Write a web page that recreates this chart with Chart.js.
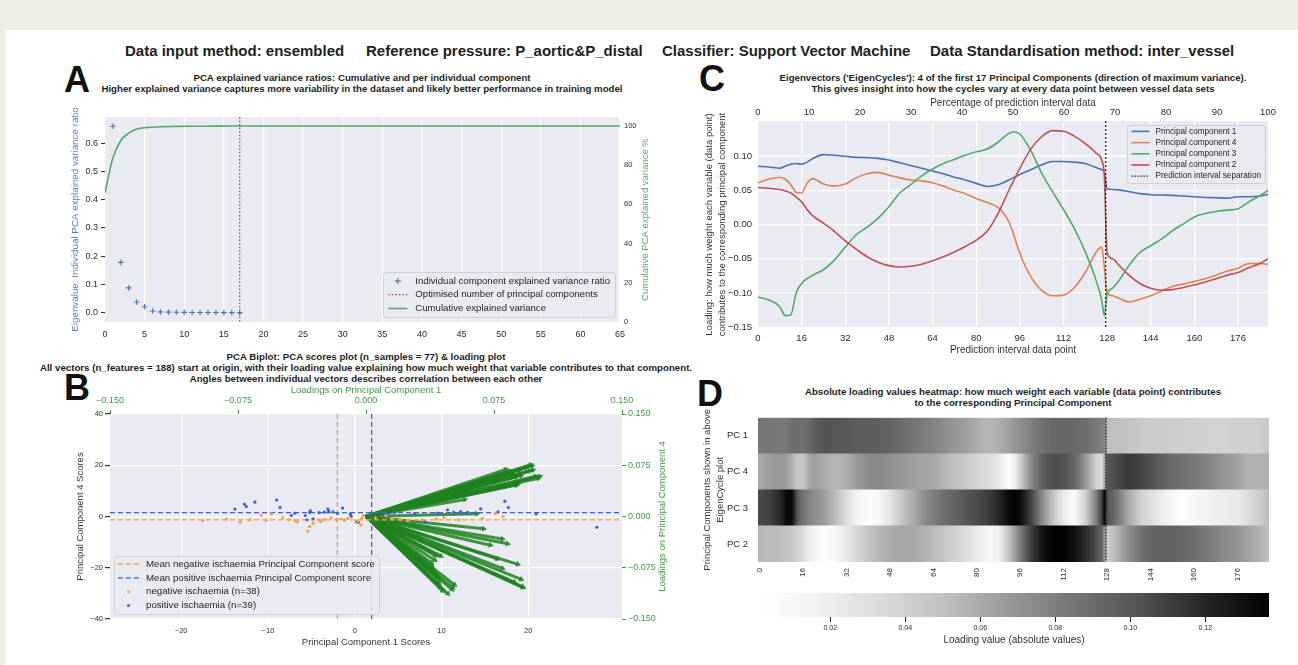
<!DOCTYPE html>
<html lang="en">
<head>
<meta charset="utf-8">
<title>PCA summary</title>
<script src="https://cdn.jsdelivr.net/npm/chart.js@4.4.1/dist/chart.umd.min.js"></script>
<style>
    html, body { margin: 0; padding: 0; }
    body {
        width: 1298px; height: 665px; overflow: hidden; position: relative;
        background: #efefe3;
        font-family: "Liberation Sans", Arial, sans-serif; color: #262626;
    }
    #sheet { position: absolute; left: 5px; top: 30px; width: 1293px; height: 635px; background: #fff; }
    .txt { position: absolute; white-space: nowrap; }
    .head { top: 42px; font-size: 15px; line-height: 18px; font-weight: bold; color: #1e1e1e; }
    .letter { font-size: 36px; line-height: 36px; font-weight: bold; color: #111; }
    .ttl { font-size: 9.7px; line-height: 11px; font-weight: bold; text-align: center; transform: translateX(-50%); color: #1e1e1e; }
    canvas { position: absolute; }
</style>
</head>
<body>
<div id="sheet"></div>

<div class="txt head" style="left:125px">Data input method: ensembled</div>
<div class="txt head" style="left:366px">Reference pressure: P_aortic&amp;P_distal</div>
<div class="txt head" style="left:662px">Classifier: Support Vector Machine</div>
<div class="txt head" style="left:930px">Data Standardisation method: inter_vessel</div>

<div class="txt letter" style="left:64px;top:62px">A</div>
<div class="txt letter" style="left:64px;top:370px">B</div>
<div class="txt letter" style="left:699px;top:61px">C</div>
<div class="txt letter" style="left:697px;top:376px">D</div>

<div class="txt ttl" style="left:362px;top:72px">PCA explained variance ratios: Cumulative and per individual component<br>Higher explained variance captures more variability in the dataset and likely better performance in training model</div>
<div class="txt ttl" style="left:366px;top:351px">PCA Biplot: PCA scores plot (n_samples = 77) &amp; loading plot<br>All vectors (n_features = 188) start at origin, with their loading value explaining how much weight that variable contributes to that component.<br>Angles between individual vectors describes correlation between each other</div>
<div class="txt ttl" style="left:1013px;top:72px">Eigenvectors ('EigenCycles'): 4 of the first 17 Principal Components (direction of maximum variance).<br>This gives insight into how the cycles vary at every data point between vessel data sets</div>
<div class="txt ttl" style="left:1013px;top:386px">Absolute loading values heatmap: how much weight each variable (data point) contributes<br>to the corresponding Principal Component</div>

<canvas id="chartA"></canvas>
<canvas id="chartB"></canvas>
<canvas id="chartC"></canvas>
<canvas id="chartD"></canvas>
<canvas id="chartBar"></canvas>

<script>
// ---- A: explained variance per component ----
var componentNo = [1, 2, 3, 4, 5, 6, 7, 8, 9, 10, 11, 12, 13, 14, 15, 16, 17];
var explainedRatio = [0.660, 0.178, 0.088, 0.038, 0.021, 0.006, 0.003, 0.002, 0.0015, 0.001, 0.0008, 0.0006, 0.0005, 0.0004, 0.0003, 0.0002, 0.0002];
var cumulativeX = [0, 1, 2, 3, 4, 5, 6, 7, 8, 9, 10, 12, 14, 17, 20, 30, 40, 50, 60, 65];
var cumulativePct = [66.0, 83.8, 92.6, 96.4, 98.5, 99.1, 99.4, 99.6, 99.7, 99.8, 99.85, 99.9, 99.95, 99.98, 100, 100, 100, 100, 100, 100];
var optimisedComponents = 17;
var componentTicks = [0, 5, 10, 15, 20, 25, 30, 35, 40, 45, 50, 55, 60, 65];
var ratioTicks = [0, 0.1, 0.2, 0.3, 0.4, 0.5, 0.6];
var cumulativeTicks = [0, 20, 40, 60, 80, 100];

// ---- B: scores (PC1, PC4) per sample ----
var negScores = [[-17.5, -1.7], [-13.2, -2.2], [-12.1, -1.3], [-10.8, 0.5], [-9.6, 1.0], [-8.3, -0.4], [-6.9, -1.7], [-6.6, -2.1],
    [-5.4, -5.7], [-5.2, -3.9], [-4.8, -2.6], [-4.2, -1.3], [-3.5, -1.2], [-2.7, -0.4], [-2.1, -1.3], [-1.2, -1.4], [-0.8, -0.7],
    [0.7, -3.4], [0.8, -0.7], [1.0, 0.3], [3.6, 0.4], [4.3, -0.9], [6.1, -1.7], [7.8, -1.3], [9.4, -1.0], [12.0, -1.3], [16.2, 1.3],
    [17.1, 0.0], [10.3, -0.3], [14.7, -0.7], [-7.6, -1.2], [-3.9, -2.0], [-1.6, -0.9], [0.3, -1.8], [2.4, -0.5], [5.2, -1.1],
    [-14.8, -1.0], [-10.2, -1.5]];
var posScores = [[-13.8, 2.9], [-12.7, 4.8], [-12.5, 3.9], [-11.5, 5.6], [-9.0, 6.4], [-8.6, 3.6], [-7.3, 0.4], [-6.9, 1.3],
    [-5.7, 0.4], [-5.2, 1.6], [-5.1, 2.2], [-5.5, -1.3], [-4.8, -0.9], [-3.5, 1.7], [-3.1, 2.9], [-3.0, 2.1], [-2.5, 1.8],
    [-1.4, 3.3], [-0.5, 0.9], [-0.4, 0.1], [0.2, -2.0], [0.4, -2.2], [-4.1, 1.5], [-2.0, 1.2], [3.8, 0.7], [4.6, 1.6], [6.9, 1.2],
    [8.1, -2.1], [10.7, 2.6], [11.4, 1.6], [13.0, 1.6], [14.5, 3.0], [17.3, 6.0], [17.7, 3.5], [16.5, 1.8], [20.9, 1.0],
    [27.9, -4.2], [9.5, 1.3], [12.2, 1.9]];
var meanNeg = [-2.0, -1.3];
var meanPos = [1.95, 1.5];
var scoreXTicks = [-20, -10, 0, 10, 20];
var scoreYTicks = [-40, -20, 0, 20, 40];
var loadingTicks = [-0.15, -0.075, 0, 0.075, 0.15];

// ---- C: eigenvector loadings along the 188 data points ----
var cycleIdx = [0, 4, 8, 10, 12, 14, 16, 18, 20, 24, 28, 32, 36, 40, 44, 48, 52, 56, 60, 64, 68, 72, 76, 80, 84, 88, 92, 94, 96,
    100, 104, 108, 112, 116, 120, 124, 126, 127, 128, 130, 132, 136, 140, 144, 148, 152, 156, 160, 164, 168, 172, 176, 180, 184, 187];
var pc1 = [0.085, 0.084, 0.082, 0.085, 0.088, 0.089, 0.088, 0.091, 0.096, 0.102,
    0.101, 0.0995, 0.098, 0.0975, 0.0965, 0.094, 0.090, 0.086, 0.082, 0.078,
    0.074, 0.069, 0.065, 0.060, 0.0555, 0.058, 0.065, 0.069, 0.073, 0.080,
    0.087, 0.092, 0.092, 0.091, 0.089, 0.083, 0.080, 0.077, 0.052, 0.051,
    0.0505, 0.048, 0.045, 0.0435, 0.043, 0.0425, 0.0415, 0.0405, 0.0395, 0.039,
    0.0385, 0.0405, 0.0405, 0.0415, 0.044];
var pc4 = [0.061, 0.066, 0.069, 0.066, 0.058, 0.047, 0.046, 0.060, 0.067, 0.059,
    0.056, 0.059, 0.068, 0.074, 0.076, 0.072, 0.068, 0.065, 0.0635, 0.061,
    0.056, 0.050, 0.045, 0.038, 0.032, 0.025, 0.004, -0.018, -0.042, -0.076,
    -0.096, -0.104, -0.103, -0.092, -0.070, -0.040, -0.033, -0.062, -0.100, -0.104,
    -0.107, -0.113, -0.109, -0.104, -0.097, -0.090, -0.087, -0.083, -0.079, -0.074,
    -0.068, -0.064, -0.057, -0.057, -0.058];
var pc3 = [-0.106, -0.110, -0.120, -0.133, -0.132, -0.100, -0.086, -0.079, -0.074, -0.066,
    -0.052, -0.033, -0.015, -0.004, 0.009, 0.026, 0.046, 0.058, 0.071, 0.081,
    0.089, 0.095, 0.101, 0.106, 0.110, 0.120, 0.133, 0.135, 0.132, 0.108,
    0.075, 0.048, 0.022, -0.006, -0.040, -0.082, -0.110, -0.133, -0.102, -0.093,
    -0.084, -0.060, -0.041, -0.031, -0.021, -0.009, 0.001, 0.011, 0.016, 0.019,
    0.021, 0.023, 0.033, 0.042, 0.050];
var pc2 = [0.054, 0.053, 0.051, 0.049, 0.046, 0.040, 0.033, 0.022, 0.013, 0.002,
    -0.010, -0.024, -0.036, -0.047, -0.055, -0.060, -0.062, -0.061, -0.058, -0.053,
    -0.047, -0.040, -0.032, -0.023, -0.010, 0.016, 0.050, 0.066, 0.082, 0.110,
    0.128, 0.137, 0.136, 0.129, 0.118, 0.104, 0.094, 0.070, -0.042, -0.050,
    -0.058, -0.074, -0.086, -0.093, -0.096, -0.095, -0.092, -0.088, -0.084, -0.079,
    -0.074, -0.070, -0.063, -0.057, -0.050];
var separationAt = 127.5;
var cycleTicks = [0, 16, 32, 48, 64, 80, 96, 112, 128, 144, 160, 176];
var percentTicks = [0, 10, 20, 30, 40, 50, 60, 70, 80, 90, 100];
var eigenTicks = [-0.15, -0.1, -0.05, 0, 0.05, 0.1];

// ---- D: heatmap rows and colour bar ----
var heatRows = ['PC 1', 'PC 4', 'PC 3', 'PC 2'];
var colourRange = [0.001, 0.137];
var colourTicks = [0.02, 0.04, 0.06, 0.08, 0.10, 0.12];

var FONT = '"Liberation Sans", Arial, sans-serif';
var BLUE = '#4c72b0', ORANGE = '#dd8452', GREEN = '#55a868', RED = '#c44e52';
var AXIS_GREEN = '#3f9a45', ARROW = 'rgba(30,130,30,0.85)';
var MEAN_ORANGE = '#f5a04e', MEAN_BLUE = '#3f61d6';
var GREYS = [255, 240, 217, 189, 150, 115, 82, 37, 0];

function place(id, box) {
    var c = document.getElementById(id);
    c.width = box.w;
    c.height = box.h;
    c.style.left = box.x + 'px';
    c.style.top = box.y + 'px';
    return c;
}

function fit(size) {
    return function (scale) {
        if (scale.isHorizontal()) {
            scale.height = size;
        } else {
            scale.width = size;
        }
    };
}

function ticksAt(values) {
    return function (scale) {
        scale.ticks = values.map(function (v) { return {value: v}; });
    };
}

function minus(text) {
    return String(text).replace('-', '\u2212');
}

function greyFor(v) {
    var t = Math.min(1, Math.max(0, (v - colourRange[0]) / (colourRange[1] - colourRange[0])));
    var p = t * (GREYS.length - 1), i = Math.min(GREYS.length - 2, Math.floor(p)), f = p - i;
    var g = Math.round(GREYS[i] + (GREYS[i + 1] - GREYS[i]) * f);
    return 'rgb(' + g + ',' + g + ',' + g + ')';
}

var plotBg = {
    id: 'plotBg',
    beforeDraw: function (chart) {
        var a = chart.chartArea, ctx = chart.ctx;
        ctx.save();
        ctx.fillStyle = '#eaeaf2';
        ctx.fillRect(a.left, a.top, a.right - a.left, a.bottom - a.top);
        ctx.restore();
    }
};

function vLine(id, value, o) {
    return {
        id: id,
        afterDatasetsDraw: function (chart) {
            var a = chart.chartArea, ctx = chart.ctx;
            var x = chart.scales[o.axis || 'x'].getPixelForValue(value);
            ctx.save();
            ctx.strokeStyle = o.color;
            ctx.lineWidth = o.width || 1;
            ctx.setLineDash(o.dash || []);
            ctx.beginPath();
            ctx.moveTo(x, a.top);
            ctx.lineTo(x, a.bottom);
            ctx.stroke();
            ctx.restore();
        }
    };
}

// rotated axis labels that read bottom to top, like matplotlib
function sideTitle(id, lines, x, o) {
    return {
        id: id,
        afterDraw: function (chart) {
            var a = chart.chartArea, ctx = chart.ctx, y = (a.top + a.bottom) / 2;
            ctx.save();
            ctx.font = o.size + 'px ' + FONT;
            ctx.fillStyle = o.color || '#2b2b2b';
            ctx.textAlign = 'center';
            ctx.textBaseline = 'middle';
            lines.forEach(function (line, i) {
                ctx.save();
                ctx.translate(x + i * (o.gap || 0), y);
                ctx.rotate(-Math.PI / 2);
                ctx.fillText(line, 0, 0);
                ctx.restore();
            });
            ctx.restore();
        }
    };
}

function legendBox(id, items, o) {
    return {
        id: id,
        afterDraw: function (chart) {
            var ctx = chart.ctx, a = chart.chartArea;
            ctx.save();
            ctx.font = o.size + 'px ' + FONT;
            var textW = 0;
            items.forEach(function (it) {
                textW = Math.max(textW, ctx.measureText(it.label).width);
            });
            var w = o.pad * 2 + o.handle + o.gap + textW;
            var h = o.vpad * 2 + o.row * items.length;
            var x = o.left !== undefined ? a.left + o.left : a.right - o.right - w;
            var y = o.top !== undefined ? a.top + o.top : a.bottom - o.bottom - h;
            ctx.beginPath();
            ctx.roundRect(Math.round(x) + 0.5, Math.round(y) + 0.5, Math.round(w), Math.round(h), 2.5);
            ctx.fillStyle = 'rgba(234,234,242,0.85)';
            ctx.fill();
            ctx.strokeStyle = '#d0d0d6';
            ctx.lineWidth = 1;
            ctx.stroke();
            ctx.textBaseline = 'middle';
            items.forEach(function (it, i) {
                var cy = y + o.vpad + o.row * (i + 0.5), hx = x + o.pad, mid = hx + o.handle / 2;
                ctx.strokeStyle = it.color;
                ctx.fillStyle = it.color;
                ctx.lineWidth = it.width || 1.5;
                ctx.setLineDash(it.dash || []);
                ctx.beginPath();
                if (it.kind === 'plus') {
                    ctx.moveTo(mid - 3, cy);
                    ctx.lineTo(mid + 3, cy);
                    ctx.moveTo(mid, cy - 3);
                    ctx.lineTo(mid, cy + 3);
                    ctx.stroke();
                } else if (it.kind === 'dot') {
                    ctx.arc(mid, cy, 1.5, 0, Math.PI * 2);
                    ctx.fill();
                } else {
                    ctx.moveTo(hx, cy);
                    ctx.lineTo(hx + o.handle, cy);
                    ctx.stroke();
                }
                ctx.setLineDash([]);
                ctx.fillStyle = '#262626';
                ctx.fillText(it.label, hx + o.handle + o.gap, cy);
            });
            ctx.restore();
        }
    };
}

var Figure = {

    setup: function () {
        Chart.defaults.font.family = FONT;
        Chart.defaults.color = '#2b2b2b';
        Chart.defaults.responsive = false;
        Chart.defaults.animation = false;
        Chart.defaults.events = [];
        Chart.defaults.plugins.legend.display = false;
        Chart.defaults.plugins.tooltip.enabled = false;

        this.drawVariance();
        this.drawBiplot();
        this.drawEigenCycles();
        this.drawHeatmap();
        this.drawColourbar();
    },

    drawVariance: function () {
        var canvas = place('chartA', {x: 66, y: 108, w: 594, h: 236});

        new Chart(canvas, {
            type: 'scatter',
            data: {
                datasets: [{
                    data: componentNo.map(function (c, i) { return {x: c, y: explainedRatio[i]}; }),
                    yAxisID: 'y',
                    pointStyle: 'cross',
                    pointRadius: 2.8,
                    borderColor: BLUE,
                    backgroundColor: BLUE,
                    borderWidth: 1.1
                }, {
                    type: 'line',
                    data: cumulativeX.map(function (x, i) { return {x: x, y: cumulativePct[i]}; }),
                    yAxisID: 'y2',
                    borderColor: GREEN,
                    borderWidth: 1.6,
                    pointRadius: 0,
                    cubicInterpolationMode: 'monotone'
                }]
            },
            options: {
                devicePixelRatio: 1,
                layout: {padding: {top: 9}},
                scales: {
                    x: {
                        type: 'linear', min: 0, max: 65,
                        border: {display: false},
                        grid: {color: '#ffffff', lineWidth: 1.2, drawTicks: false},
                        ticks: {font: {size: 9}, padding: 7},
                        afterBuildTicks: ticksAt(componentTicks),
                        afterFit: fit(22)
                    },
                    y: {
                        position: 'left', min: -0.033, max: 0.693,
                        border: {display: false},
                        grid: {drawOnChartArea: false, tickLength: 4, tickColor: '#333'},
                        ticks: {font: {size: 9}, padding: 3, callback: function (v) { return v.toFixed(1); }},
                        afterBuildTicks: ticksAt(ratioTicks),
                        afterFit: fit(39)
                    },
                    y2: {
                        position: 'right', min: 0, max: 104.6,
                        border: {display: false},
                        grid: {display: false, drawTicks: false},
                        ticks: {font: {size: 7.5}, padding: 4},
                        afterBuildTicks: ticksAt(cumulativeTicks),
                        afterFit: fit(40)
                    }
                }
            },
            plugins: [
                plotBg,
                vLine('optLine', optimisedComponents, {color: '#b5474b', width: 1.3, dash: [1.5, 2]}),
                sideTitle('titleA1', ['Eigenvalue: Individual PCA explained variance ratio'], 9.5, {size: 9.8, color: '#5a7ec2'}),
                sideTitle('titleA2', ['Cumulative PCA explained variance %'], 579, {size: 9.5, color: '#5aaa6a'}),
                legendBox('legendA', [
                    {kind: 'plus', color: BLUE, width: 1.1, label: 'Individual component explained variance ratio'},
                    {kind: 'line', color: '#b5474b', dash: [1.5, 2], width: 1.3, label: 'Optimised number of principal components'},
                    {kind: 'line', color: GREEN, width: 1.6, label: 'Cumulative explained variance'}
                ], {size: 9.6, row: 13.8, pad: 5, vpad: 1.6, handle: 19, gap: 8, right: 5, bottom: 5})
            ]
        });
    },

    drawBiplot: function () {
        var canvas = place('chartB', {x: 70, y: 385, w: 602, h: 263});
        var xr = [-28.2, 30.8], yr = [-40, 40];
        var datasets = [];

        // one arrow per loading vector, tip at (PC1 loading, PC4 loading)
        cycleIdx.forEach(function (idx, k) {
            datasets.push({
                type: 'line',
                data: [{x: 0, y: 0}, {x: pc1[k], y: pc4[k]}],
                xAxisID: 'x2',
                yAxisID: 'y2',
                borderColor: ARROW,
                borderWidth: 3,
                pointStyle: 'triangle',
                pointRadius: [0, 3.4],
                pointBorderWidth: 0,
                pointBackgroundColor: ARROW,
                pointRotation: function (c) {
                    var sx = c.chart.scales.x2, sy = c.chart.scales.y2;
                    var dx = sx.getPixelForValue(pc1[k]) - sx.getPixelForValue(0);
                    var dy = sy.getPixelForValue(pc4[k]) - sy.getPixelForValue(0);
                    return Math.atan2(dx, -dy) * 180 / Math.PI;
                },
                order: 3
            });
        });

        [[meanNeg, MEAN_ORANGE], [meanPos, MEAN_BLUE]].forEach(function (m) {
            datasets.push({
                type: 'line',
                data: [{x: m[0][0], y: yr[0]}, {x: m[0][0], y: yr[1]}],
                borderColor: m[1], borderWidth: 1.3, borderDash: [5, 3], pointRadius: 0, order: 2
            });
            datasets.push({
                type: 'line',
                data: [{x: xr[0], y: m[0][1]}, {x: xr[1], y: m[0][1]}],
                borderColor: m[1], borderWidth: 1.3, borderDash: [5, 3], pointRadius: 0, order: 2
            });
        });

        datasets.push({
            data: negScores.map(function (p) { return {x: p[0], y: p[1]}; }),
            backgroundColor: MEAN_ORANGE, borderWidth: 0, pointRadius: 1.6, order: 1
        });
        datasets.push({
            data: posScores.map(function (p) { return {x: p[0], y: p[1]}; }),
            backgroundColor: MEAN_BLUE, borderWidth: 0, pointRadius: 1.6, order: 1
        });

        new Chart(canvas, {
            type: 'scatter',
            data: {datasets: datasets},
            options: {
                devicePixelRatio: 1,
                scales: {
                    x: {
                        min: xr[0], max: xr[1],
                        border: {display: false},
                        grid: {color: '#ffffff', lineWidth: 1.2, drawTicks: false},
                        ticks: {font: {size: 7.5}, padding: 7, callback: minus},
                        title: {display: true, text: 'Principal Component 1 Scores', font: {size: 9.5}, padding: 0, color: '#333'},
                        afterBuildTicks: ticksAt(scoreXTicks),
                        afterFit: fit(29)
                    },
                    y: {
                        min: yr[0], max: yr[1],
                        border: {display: false},
                        grid: {color: '#ffffff', lineWidth: 1.2, tickLength: 5, tickColor: '#333'},
                        ticks: {font: {size: 7.5}, padding: 2, callback: minus},
                        afterBuildTicks: ticksAt(scoreYTicks),
                        afterFit: fit(40)
                    },
                    x2: {
                        type: 'linear', position: 'top', min: -0.15, max: 0.15,
                        border: {display: false},
                        grid: {drawOnChartArea: false, tickLength: 4, tickColor: AXIS_GREEN},
                        ticks: {font: {size: 9}, padding: 4, color: AXIS_GREEN, callback: function (v) { return minus(v.toFixed(3)); }},
                        title: {display: true, text: 'Loadings on Principal Component 1', font: {size: 9.5}, padding: 0, color: AXIS_GREEN},
                        afterBuildTicks: ticksAt(loadingTicks),
                        afterFit: fit(29)
                    },
                    y2: {
                        type: 'linear', position: 'right', min: -0.15, max: 0.15,
                        border: {display: false},
                        grid: {drawOnChartArea: false, tickLength: 4, tickColor: AXIS_GREEN},
                        ticks: {font: {size: 9}, padding: 2, color: AXIS_GREEN, callback: function (v) { return minus(v.toFixed(3)); }},
                        afterBuildTicks: ticksAt(loadingTicks),
                        afterFit: fit(50)
                    }
                }
            },
            plugins: [
                plotBg,
                sideTitle('titleB1', ['Principal Component 4 Scores'], 10, {size: 9.5, color: '#333'}),
                sideTitle('titleB2', ['Loadings on Principal Component 4'], 592, {size: 9.5, color: AXIS_GREEN}),
                legendBox('legendB', [
                    {kind: 'line', color: MEAN_ORANGE, dash: [5, 3], width: 1.3, label: 'Mean negative ischaemia Principal Component score'},
                    {kind: 'line', color: MEAN_BLUE, dash: [5, 3], width: 1.3, label: 'Mean positive ischaemia Principal Component score'},
                    {kind: 'dot', color: MEAN_ORANGE, label: 'negative ischaemia (n=38)'},
                    {kind: 'dot', color: MEAN_BLUE, label: 'positive ischaemia (n=39)'}
                ], {size: 9.7, row: 13.8, pad: 4, vpad: 1.6, handle: 21, gap: 7, left: 4, bottom: 5})
            ]
        });
    },

    drawEigenCycles: function () {
        var canvas = place('chartC', {x: 703, y: 97, w: 587, h: 259});
        var series = [
            {label: 'Principal component 1', values: pc1, color: BLUE, order: 4},
            {label: 'Principal component 4', values: pc4, color: ORANGE, order: 3},
            {label: 'Principal component 3', values: pc3, color: GREEN, order: 2},
            {label: 'Principal component 2', values: pc2, color: RED, order: 1}
        ];

        new Chart(canvas, {
            type: 'line',
            data: {
                datasets: series.map(function (s) {
                    return {
                        label: s.label,
                        data: cycleIdx.map(function (x, i) { return {x: x, y: s.values[i]}; }),
                        borderColor: s.color,
                        borderWidth: 1.6,
                        pointRadius: 0,
                        cubicInterpolationMode: 'monotone',
                        order: s.order
                    };
                })
            },
            options: {
                devicePixelRatio: 1,
                layout: {padding: {right: 22}},
                scales: {
                    x: {
                        type: 'linear', min: 0, max: 187,
                        border: {display: false},
                        grid: {color: '#ffffff', lineWidth: 1.2, drawTicks: false},
                        ticks: {font: {size: 9.5}, padding: 5},
                        title: {display: true, text: 'Prediction interval data point', font: {size: 10}, padding: 0, color: '#333'},
                        afterBuildTicks: ticksAt(cycleTicks),
                        afterFit: fit(28)
                    },
                    xTop: {
                        type: 'linear', position: 'top', min: 0, max: 100,
                        border: {display: false},
                        grid: {display: false, drawTicks: false},
                        ticks: {font: {size: 9.5}, padding: 3},
                        title: {display: true, text: 'Percentage of prediction interval data', font: {size: 10}, padding: 0, color: '#333'},
                        afterBuildTicks: ticksAt(percentTicks),
                        afterFit: fit(24)
                    },
                    y: {
                        min: -0.151, max: 0.151,
                        border: {display: false},
                        grid: {color: '#ffffff', lineWidth: 1.2, drawTicks: false},
                        ticks: {font: {size: 9.5}, padding: 6, callback: function (v) { return minus(v.toFixed(2)); }},
                        afterBuildTicks: ticksAt(eigenTicks),
                        afterFit: fit(55)
                    }
                }
            },
            plugins: [
                plotBg,
                vLine('sepC', separationAt, {color: '#222', width: 1.3, dash: [2, 2]}),
                sideTitle('titleC', ['Loading: how much weight each variable (data point)',
                    'contributes to the corresponding principal component'], 6, {size: 9.5, gap: 13, color: '#333'}),
                legendBox('legendC', series.map(function (s) {
                    return {kind: 'line', color: s.color, width: 1.6, label: s.label};
                }).concat([{kind: 'line', color: '#222', dash: [1.5, 1.5], width: 1.3, label: 'Prediction interval separation'}]),
                {size: 8.2, row: 11.2, pad: 4, vpad: 0.8, handle: 18, gap: 6, right: 3, top: 4})
            ]
        });
    },

    drawHeatmap: function () {
        // the category axis keeps half a label plus its padding clear above the rows
        var canvas = place('chartD', {x: 703, y: 402, w: 587, h: 188});
        var rows = [pc1, pc4, pc3, pc2];

        new Chart(canvas, {
            type: 'bar',
            data: {
                labels: heatRows,
                datasets: [{
                    data: heatRows.map(function () { return [-0.5, 187.5]; }),
                    barPercentage: 1,
                    categoryPercentage: 1,
                    borderWidth: 0,
                    // each row is one bar, shaded along x by |loading| at every data point
                    backgroundColor: function (c) {
                        var chart = c.chart, xs = chart.scales.x;
                        if (c.type !== 'data' || !chart.chartArea || !xs) {
                            return '#ccc';
                        }
                        var x0 = xs.getPixelForValue(-0.5), x1 = xs.getPixelForValue(187.5);
                        var g = chart.ctx.createLinearGradient(x0, 0, x1, 0);
                        var values = rows[c.dataIndex];
                        cycleIdx.forEach(function (idx, k) {
                            g.addColorStop((xs.getPixelForValue(idx) - x0) / (x1 - x0), greyFor(Math.abs(values[k])));
                        });
                        return g;
                    }
                }]
            },
            options: {
                devicePixelRatio: 1,
                indexAxis: 'y',
                layout: {padding: {right: 21}},
                scales: {
                    x: {
                        type: 'linear', min: -0.5, max: 187.5,
                        border: {display: false},
                        grid: {display: false, drawTicks: false},
                        ticks: {font: {size: 8}, padding: 6, minRotation: 90, maxRotation: 90, autoSkip: false},
                        afterBuildTicks: ticksAt(cycleTicks),
                        afterFit: fit(28)
                    },
                    y: {
                        border: {display: false},
                        grid: {display: false, drawTicks: false},
                        ticks: {font: {size: 9.5}, padding: 10},
                        afterFit: fit(55)
                    }
                }
            },
            plugins: [
                vLine('sepD', separationAt, {color: '#111', width: 1.2, dash: [1.5, 1.5]}),
                sideTitle('titleD', ['Principal Components shown in above', 'EigenCycle plot'], 4, {size: 9.5, gap: 13, color: '#333'})
            ]
        });
    },

    drawColourbar: function () {
        var canvas = place('chartBar', {x: 759, y: 593, w: 510, h: 53});

        new Chart(canvas, {
            type: 'bar',
            data: {
                labels: [''],
                datasets: [{
                    data: [[colourRange[0], colourRange[1]]],
                    barPercentage: 1,
                    categoryPercentage: 1,
                    borderWidth: 0,
                    backgroundColor: function (c) {
                        var chart = c.chart, xs = chart.scales.x;
                        if (!chart.chartArea || !xs) {
                            return '#888';
                        }
                        var x0 = xs.getPixelForValue(colourRange[0]), x1 = xs.getPixelForValue(colourRange[1]);
                        var g = chart.ctx.createLinearGradient(x0, 0, x1, 0);
                        GREYS.forEach(function (v, i) {
                            g.addColorStop(i / (GREYS.length - 1), 'rgb(' + v + ',' + v + ',' + v + ')');
                        });
                        return g;
                    }
                }]
            },
            options: {
                devicePixelRatio: 1,
                indexAxis: 'y',
                scales: {
                    x: {
                        type: 'linear', min: colourRange[0], max: colourRange[1],
                        border: {display: false},
                        grid: {drawOnChartArea: false, tickLength: 5, tickColor: '#222'},
                        ticks: {font: {size: 7}, padding: 2, callback: function (v) { return v.toFixed(2); }},
                        title: {display: true, text: 'Loading value (absolute values)', font: {size: 10}, padding: 0, color: '#333'},
                        afterBuildTicks: ticksAt(colourTicks),
                        afterFit: fit(29)
                    },
                    y: {display: false}
                }
            }
        });
    }
};

Figure.setup();
</script>
</body>
</html>
